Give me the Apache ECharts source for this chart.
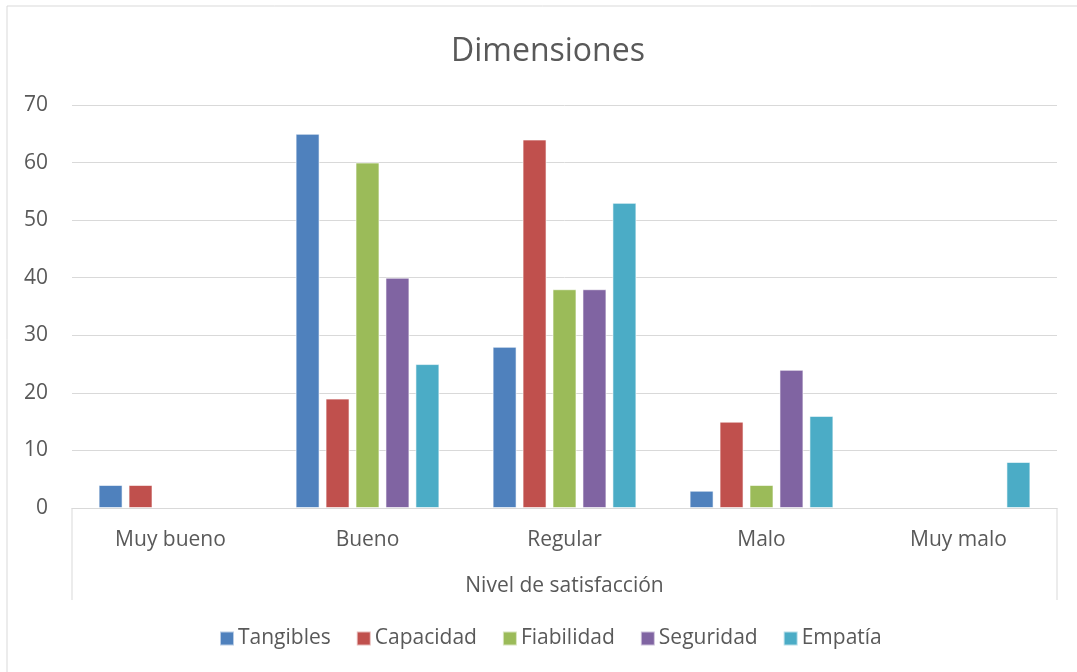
<!DOCTYPE html>
<html>
<head>
<meta charset="utf-8">
<script src="https://cdn.jsdelivr.net/npm/echarts@6/dist/echarts.min.js"></script>
<style>
  html, body { margin: 0; padding: 0; background: #fff; }
  #chart { width: 1077px; height: 672px; }
</style>
</head>
<body>
<div id="chart"></div>
<script>
var categories = ["Muy bueno", "Bueno", "Regular", "Malo", "Muy malo"];
var tangibles = [4, 65, 28, 3, 0];
var capacidad = [4, 19, 64, 15, 0];
var fiabilidad = [0, 60, 38, 4, 0];
var seguridad = [0, 40, 38, 24, 0];
var empatia = [0, 25, 53, 16, 8];

var seriesNames = ["Tangibles", "Capacidad", "Fiabilidad", "Seguridad", "Empatía"];
var seriesData = [tangibles, capacidad, fiabilidad, seguridad, empatia];
var colors = ["#4F81BD", "#C0504D", "#9BBB59", "#8064A2", "#4BACC6"];

var font = "'Open Sans', Lato, sans-serif";
var textColor = "#595959";
var gridLeft = 72, gridRight = 20, gridTop = 105, gridBottom = 164;

var chartDom = document.getElementById("chart");
var myChart = echarts.init(chartDom);

var series = seriesNames.map(function (name, i) {
  return {
    name: name,
    type: "bar",
    data: seriesData[i].map(function (v) { return v === 0 ? null : v; }),
    barGap: "25%",
    barCategoryGap: "27%",
    itemStyle: { color: colors[i], borderColor: "rgba(255,255,255,0.6)", borderWidth: 1 },
  };
});

var option = {
  animation: false,
  color: colors,
  textStyle: { fontFamily: font },
  title: {
    text: "Dimensiones",
    left: 446,
    top: 31,
    textStyle: { fontFamily: font, fontSize: 32, fontWeight: "normal", color: textColor },
  },
  legend: {
    bottom: 18,
    left: 214,
    itemWidth: 14,
    itemHeight: 14,
    itemGap: 25,
    icon: "rect",
    textStyle: { fontFamily: font, fontSize: 21, color: textColor, padding: [0, 0, 0, -1] },
    data: seriesNames,
  },
  grid: { left: gridLeft, right: gridRight, top: gridTop, bottom: gridBottom },
  xAxis: {
    type: "category",
    data: categories,
    axisLine: { lineStyle: { color: "#d9d9d9" } },
    axisTick: { show: false },
    axisLabel: { fontFamily: font, fontSize: 21, color: textColor, margin: 22 },
    name: "Nivel de satisfacción",
    nameLocation: "middle",
    nameGap: 68,
    nameTextStyle: { fontFamily: font, fontSize: 21, color: textColor },
  },
  yAxis: {
    type: "value",
    min: 0,
    max: 70,
    interval: 10,
    axisLine: { show: false },
    axisTick: { show: false },
    axisLabel: { fontFamily: font, fontSize: 21, color: textColor, margin: 24 },
    splitLine: { lineStyle: { color: "#d9d9d9", width: 1 } },
  },
  graphic: [
    // chart frame
    { type: "rect", shape: { x: 7, y: 6, width: 1100, height: 700 }, style: { fill: "none", stroke: "#d9d9d9", lineWidth: 1 }, silent: true },
    // separators of the two-level category axis
    { type: "line", shape: { x1: gridLeft, y1: 672 - gridBottom, x2: gridLeft, y2: 600 }, style: { stroke: "#d9d9d9", lineWidth: 1 } },
    { type: "line", shape: { x1: 1077 - gridRight, y1: 672 - gridBottom, x2: 1077 - gridRight, y2: 600 }, style: { stroke: "#d9d9d9", lineWidth: 1 } },
  ],
  series: series,
};

option && myChart.setOption(option);
</script>
</body>
</html>
